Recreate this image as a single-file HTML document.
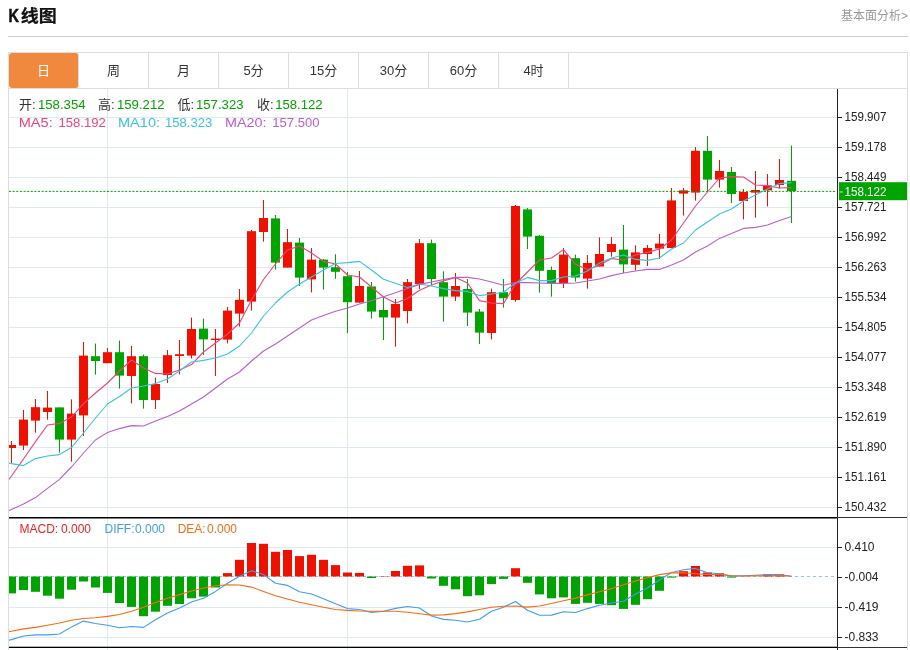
<!DOCTYPE html>
<html lang="zh-CN"><head><meta charset="utf-8"><title>K线图</title>
<style>
html,body{margin:0;padding:0;background:#fff;}
body{width:910px;height:650px;position:relative;overflow:hidden;font-family:"Liberation Sans","Noto Sans CJK SC",sans-serif;color:#222;}
.k{position:absolute;left:-0.5px;top:0.9px;font-size:14.5px;line-height:24px;transform:scaleY(1.27);transform-origin:0 17px;-webkit-text-stroke:0.45px #111;}
.cj{position:absolute;left:11.7px;top:0.3px;transform:scaleY(0.96);transform-origin:0 100%;-webkit-text-stroke:0.25px #111;}
.title{position:absolute;left:9px;top:3.7px;white-space:nowrap;width:60px;height:24px;font-size:18px;font-weight:bold;line-height:24px;color:#111;}
.more{position:absolute;right:2px;top:6.5px;font-size:12px;line-height:18px;color:#999;}
.hr{position:absolute;left:8px;top:36px;width:900px;height:1px;background:#ccc;}
.tabs{position:absolute;left:8px;top:52px;width:898px;height:35px;border:1px solid #ddd;display:flex;}
.tab{width:69px;height:35px;border-right:1px solid #ddd;text-align:center;line-height:35px;font-size:13px;color:#333;}
.tab.on{background:#f0883e;color:#fff;border-radius:3px;}
</style></head><body>
<div class="title"><span class="k">K</span><span class="cj">线图</span></div>
<div class="more">基本面分析&gt;</div>
<div class="hr"></div>
<div class="tabs"><div class="tab on">日</div><div class="tab">周</div><div class="tab">月</div><div class="tab">5分</div><div class="tab">15分</div><div class="tab">30分</div><div class="tab">60分</div><div class="tab">4时</div></div>
<svg class="chart" width="910" height="562" viewBox="0 88 910 562" style="position:absolute;left:0;top:88px">
<defs><clipPath id="cp"><rect x="9" y="88" width="828" height="562"/></clipPath></defs>
<g stroke="#dfe9f1" stroke-width="1" shape-rendering="crispEdges">
<line x1="9" x2="837" y1="117.5" y2="117.5"/>
<line x1="9" x2="837" y1="147.5" y2="147.5"/>
<line x1="9" x2="837" y1="177.5" y2="177.5"/>
<line x1="9" x2="837" y1="207.5" y2="207.5"/>
<line x1="9" x2="837" y1="237.5" y2="237.5"/>
<line x1="9" x2="837" y1="267.5" y2="267.5"/>
<line x1="9" x2="837" y1="297.5" y2="297.5"/>
<line x1="9" x2="837" y1="327.5" y2="327.5"/>
<line x1="9" x2="837" y1="357.5" y2="357.5"/>
<line x1="9" x2="837" y1="387.5" y2="387.5"/>
<line x1="9" x2="837" y1="417.5" y2="417.5"/>
<line x1="9" x2="837" y1="447.5" y2="447.5"/>
<line x1="9" x2="837" y1="477.5" y2="477.5"/>
<line x1="9" x2="837" y1="507.5" y2="507.5"/>
<line x1="9" x2="837" y1="547.5" y2="547.5"/>
<line x1="9" x2="837" y1="607.5" y2="607.5"/>
<line x1="9" x2="837" y1="637.5" y2="637.5"/>
<line x1="107.5" x2="107.5" y1="89" y2="650"/>
<line x1="347.5" x2="347.5" y1="89" y2="650"/>
</g>
<g stroke="#dddddd" stroke-width="1" shape-rendering="crispEdges"><line x1="8.5" x2="8.5" y1="88" y2="650"/><line x1="907.5" x2="907.5" y1="88" y2="650"/></g>
<line x1="9" x2="837" y1="576.5" y2="576.5" stroke="#8ccbee" stroke-width="1" stroke-dasharray="3,3" shape-rendering="crispEdges"/>
<g clip-path="url(#cp)">
<rect x="7" y="576.5" width="9" height="16.9" fill="#00a400"/>
<rect x="19" y="576.5" width="9" height="13.6" fill="#00a400"/>
<rect x="31" y="576.5" width="9" height="15.3" fill="#00a400"/>
<rect x="43" y="576.5" width="9" height="19.2" fill="#00a400"/>
<rect x="55" y="576.5" width="9" height="22.2" fill="#00a400"/>
<rect x="67" y="576.5" width="9" height="13.2" fill="#00a400"/>
<rect x="79" y="576.5" width="9" height="5.0" fill="#00a400"/>
<rect x="91" y="576.5" width="9" height="11.0" fill="#00a400"/>
<rect x="103" y="576.5" width="9" height="16.4" fill="#00a400"/>
<rect x="115" y="576.5" width="9" height="26.5" fill="#00a400"/>
<rect x="127" y="576.5" width="9" height="30.4" fill="#00a400"/>
<rect x="139" y="576.5" width="9" height="39.7" fill="#00a400"/>
<rect x="151" y="576.5" width="9" height="35.2" fill="#00a400"/>
<rect x="163" y="576.5" width="9" height="29.3" fill="#00a400"/>
<rect x="175" y="576.5" width="9" height="27.5" fill="#00a400"/>
<rect x="187" y="576.5" width="9" height="21.8" fill="#00a400"/>
<rect x="199" y="576.5" width="9" height="20.1" fill="#00a400"/>
<rect x="211" y="576.5" width="9" height="11.0" fill="#00a400"/>
<rect x="223" y="573.1" width="9" height="3.4" fill="#ee1100"/>
<rect x="235" y="559.8" width="9" height="16.7" fill="#ee1100"/>
<rect x="247" y="543.0" width="9" height="33.5" fill="#ee1100"/>
<rect x="259" y="543.8" width="9" height="32.7" fill="#ee1100"/>
<rect x="271" y="551.8" width="9" height="24.7" fill="#ee1100"/>
<rect x="283" y="550.0" width="9" height="26.5" fill="#ee1100"/>
<rect x="295" y="556.1" width="9" height="20.4" fill="#ee1100"/>
<rect x="307" y="554.8" width="9" height="21.7" fill="#ee1100"/>
<rect x="319" y="559.8" width="9" height="16.7" fill="#ee1100"/>
<rect x="331" y="565.1" width="9" height="11.4" fill="#ee1100"/>
<rect x="343" y="572.5" width="9" height="4.0" fill="#ee1100"/>
<rect x="355" y="572.9" width="9" height="3.6" fill="#ee1100"/>
<rect x="367" y="576.5" width="9" height="1.5" fill="#00a400"/>
<rect x="379" y="576.1" width="9" height="0.4" fill="#ee1100"/>
<rect x="391" y="571.0" width="9" height="5.5" fill="#ee1100"/>
<rect x="403" y="565.8" width="9" height="10.7" fill="#ee1100"/>
<rect x="415" y="565.4" width="9" height="11.1" fill="#ee1100"/>
<rect x="427" y="576.5" width="9" height="2.0" fill="#00a400"/>
<rect x="439" y="576.5" width="9" height="9.3" fill="#00a400"/>
<rect x="451" y="576.5" width="9" height="12.8" fill="#00a400"/>
<rect x="463" y="576.5" width="9" height="19.7" fill="#00a400"/>
<rect x="475" y="576.5" width="9" height="18.8" fill="#00a400"/>
<rect x="487" y="576.5" width="9" height="7.6" fill="#00a400"/>
<rect x="499" y="576.5" width="9" height="2.4" fill="#00a400"/>
<rect x="511" y="568.2" width="9" height="8.3" fill="#ee1100"/>
<rect x="523" y="576.5" width="9" height="6.3" fill="#00a400"/>
<rect x="535" y="576.5" width="9" height="17.9" fill="#00a400"/>
<rect x="547" y="576.5" width="9" height="21.8" fill="#00a400"/>
<rect x="559" y="576.5" width="9" height="20.9" fill="#00a400"/>
<rect x="571" y="576.5" width="9" height="27.4" fill="#00a400"/>
<rect x="583" y="576.5" width="9" height="26.3" fill="#00a400"/>
<rect x="595" y="576.5" width="9" height="27.4" fill="#00a400"/>
<rect x="607" y="576.5" width="9" height="28.7" fill="#00a400"/>
<rect x="619" y="576.5" width="9" height="32.4" fill="#00a400"/>
<rect x="631" y="576.5" width="9" height="28.3" fill="#00a400"/>
<rect x="643" y="576.5" width="9" height="22.7" fill="#00a400"/>
<rect x="655" y="576.5" width="9" height="14.3" fill="#00a400"/>
<rect x="667" y="576.5" width="9" height="1.1" fill="#00a400"/>
<rect x="679" y="571.2" width="9" height="5.3" fill="#ee1100"/>
<rect x="691" y="566.0" width="9" height="10.5" fill="#ee1100"/>
<rect x="703" y="572.5" width="9" height="4.0" fill="#ee1100"/>
<rect x="715" y="573.3" width="9" height="3.2" fill="#ee1100"/>
<rect x="727" y="576.5" width="9" height="1.1" fill="#00a400"/>
<rect x="763" y="574.3" width="9" height="2.2" fill="#ee1100"/>
<rect x="775" y="574.3" width="9" height="2.2" fill="#ee1100"/>
</g>
<polyline points="8.5,640.3 11.5,639.6 23.5,636.0 35.5,634.9 47.5,634.9 59.5,634.0 71.5,626.9 83.5,621.1 95.5,623.5 107.5,625.2 119.5,627.8 131.5,626.5 143.5,627.4 155.5,619.8 167.5,613.0 179.5,608.0 191.5,602.0 203.5,598.3 215.5,591.4 227.5,583.2 239.5,576.3 251.5,570.7 263.5,574.6 275.5,583.2 287.5,585.4 299.5,591.8 311.5,594.0 323.5,598.7 335.5,603.7 347.5,608.6 359.5,609.5 371.5,612.4 383.5,611.2 395.5,608.4 407.5,606.5 419.5,608.0 431.5,616.0 443.5,619.4 455.5,620.3 467.5,622.0 479.5,619.2 491.5,611.2 503.5,607.3 515.5,601.5 527.5,610.2 539.5,615.3 551.5,615.1 563.5,611.7 575.5,612.5 587.5,608.6 599.5,605.2 611.5,603.0 623.5,601.3 635.5,594.0 647.5,588.0 659.5,580.0 671.5,572.5 683.5,569.7 695.5,568.4 707.5,572.7 719.5,573.8 731.5,575.9 743.5,575.9 755.5,575.3 767.5,574.6 779.5,574.6 791.5,576.3" fill="none" stroke="#3f9cf4" stroke-width="1.1" stroke-linejoin="round" clip-path="url(#cp)"/>
<polyline points="8.5,631.7 11.5,631.2 23.5,628.9 35.5,627.4 47.5,625.2 59.5,623.0 71.5,620.3 83.5,618.5 95.5,617.7 107.5,616.4 119.5,614.5 131.5,611.2 143.5,607.3 155.5,602.6 167.5,598.3 179.5,594.6 191.5,591.0 203.5,588.0 215.5,585.8 227.5,584.7 239.5,585.0 251.5,587.1 263.5,591.4 275.5,595.7 287.5,599.0 299.5,602.2 311.5,604.8 323.5,607.3 335.5,609.5 347.5,610.4 359.5,611.0 371.5,611.3 383.5,611.2 395.5,611.2 407.5,612.3 419.5,613.8 431.5,615.1 443.5,614.9 455.5,613.6 467.5,611.9 479.5,609.5 491.5,607.3 503.5,606.3 515.5,606.0 527.5,607.1 539.5,606.0 551.5,603.5 563.5,600.7 575.5,598.1 587.5,594.9 599.5,591.8 611.5,588.6 623.5,584.7 635.5,580.9 647.5,577.8 659.5,574.6 671.5,572.9 683.5,572.7 695.5,573.8 707.5,574.4 719.5,574.8 731.5,575.7 743.5,576.0 755.5,575.9 767.5,575.7 779.5,575.5 791.5,576.3" fill="none" stroke="#f96c12" stroke-width="1.1" stroke-linejoin="round" clip-path="url(#cp)"/>
<g clip-path="url(#cp)">
<rect x="11" y="441.0" width="1" height="22.0" fill="#ee1100"/>
<rect x="7" y="445.0" width="9" height="3.0" fill="#ee1100"/>
<rect x="23" y="410.0" width="1" height="40.0" fill="#ee1100"/>
<rect x="19" y="419.6" width="9" height="26.0" fill="#ee1100"/>
<rect x="35" y="399.0" width="1" height="33.6" fill="#ee1100"/>
<rect x="31" y="407.2" width="9" height="13.4" fill="#ee1100"/>
<rect x="47" y="391.0" width="1" height="28.6" fill="#ee1100"/>
<rect x="43" y="407.6" width="9" height="4.4" fill="#ee1100"/>
<rect x="59" y="407.4" width="1" height="45.2" fill="#00a400"/>
<rect x="55" y="407.4" width="9" height="32.2" fill="#00a400"/>
<rect x="71" y="399.4" width="1" height="62.2" fill="#ee1100"/>
<rect x="67" y="413.6" width="9" height="26.0" fill="#ee1100"/>
<rect x="83" y="342.0" width="1" height="94.0" fill="#ee1100"/>
<rect x="79" y="355.6" width="9" height="59.8" fill="#ee1100"/>
<rect x="95" y="343.6" width="1" height="31.0" fill="#00a400"/>
<rect x="91" y="356.2" width="9" height="4.8" fill="#00a400"/>
<rect x="107" y="348.0" width="1" height="15.2" fill="#ee1100"/>
<rect x="103" y="352.2" width="9" height="11.0" fill="#ee1100"/>
<rect x="119" y="340.6" width="1" height="48.0" fill="#00a400"/>
<rect x="115" y="352.2" width="9" height="23.4" fill="#00a400"/>
<rect x="131" y="346.0" width="1" height="57.4" fill="#ee1100"/>
<rect x="127" y="356.2" width="9" height="19.8" fill="#ee1100"/>
<rect x="143" y="354.6" width="1" height="54.0" fill="#00a400"/>
<rect x="139" y="356.2" width="9" height="43.8" fill="#00a400"/>
<rect x="155" y="377.6" width="1" height="31.4" fill="#ee1100"/>
<rect x="151" y="384.0" width="9" height="16.0" fill="#ee1100"/>
<rect x="167" y="350.0" width="1" height="33.0" fill="#ee1100"/>
<rect x="163" y="355.2" width="9" height="19.8" fill="#ee1100"/>
<rect x="179" y="340.0" width="1" height="34.4" fill="#ee1100"/>
<rect x="175" y="354.2" width="9" height="1.8" fill="#ee1100"/>
<rect x="191" y="317.6" width="1" height="41.0" fill="#ee1100"/>
<rect x="187" y="329.0" width="9" height="26.6" fill="#ee1100"/>
<rect x="203" y="318.6" width="1" height="36.4" fill="#00a400"/>
<rect x="199" y="328.6" width="9" height="10.8" fill="#00a400"/>
<rect x="215" y="329.0" width="1" height="47.0" fill="#ee1100"/>
<rect x="211" y="338.6" width="9" height="1.4" fill="#ee1100"/>
<rect x="227" y="307.0" width="1" height="36.4" fill="#ee1100"/>
<rect x="223" y="310.6" width="9" height="29.0" fill="#ee1100"/>
<rect x="239" y="289.0" width="1" height="37.6" fill="#ee1100"/>
<rect x="235" y="299.8" width="9" height="13.8" fill="#ee1100"/>
<rect x="251" y="230.0" width="1" height="80.6" fill="#ee1100"/>
<rect x="247" y="231.2" width="9" height="70.4" fill="#ee1100"/>
<rect x="263" y="200.0" width="1" height="41.6" fill="#ee1100"/>
<rect x="259" y="218.0" width="9" height="14.0" fill="#ee1100"/>
<rect x="275" y="215.0" width="1" height="54.6" fill="#00a400"/>
<rect x="271" y="218.4" width="9" height="44.2" fill="#00a400"/>
<rect x="287" y="229.0" width="1" height="38.6" fill="#ee1100"/>
<rect x="283" y="242.2" width="9" height="25.4" fill="#ee1100"/>
<rect x="299" y="238.0" width="1" height="48.0" fill="#00a400"/>
<rect x="295" y="242.6" width="9" height="35.0" fill="#00a400"/>
<rect x="311" y="248.0" width="1" height="44.4" fill="#ee1100"/>
<rect x="307" y="259.6" width="9" height="19.8" fill="#ee1100"/>
<rect x="323" y="259.0" width="1" height="30.6" fill="#00a400"/>
<rect x="319" y="259.6" width="9" height="8.0" fill="#00a400"/>
<rect x="335" y="254.2" width="1" height="24.6" fill="#00a400"/>
<rect x="331" y="267.2" width="9" height="4.6" fill="#00a400"/>
<rect x="347" y="272.0" width="1" height="61.0" fill="#00a400"/>
<rect x="343" y="276.2" width="9" height="26.0" fill="#00a400"/>
<rect x="359" y="271.0" width="1" height="31.6" fill="#ee1100"/>
<rect x="355" y="286.0" width="9" height="16.6" fill="#ee1100"/>
<rect x="371" y="282.0" width="1" height="36.6" fill="#00a400"/>
<rect x="367" y="286.5" width="9" height="25.1" fill="#00a400"/>
<rect x="383" y="297.0" width="1" height="43.0" fill="#00a400"/>
<rect x="379" y="310.0" width="9" height="7.4" fill="#00a400"/>
<rect x="395" y="299.0" width="1" height="47.6" fill="#ee1100"/>
<rect x="391" y="304.0" width="9" height="13.6" fill="#ee1100"/>
<rect x="407" y="279.0" width="1" height="44.4" fill="#ee1100"/>
<rect x="403" y="282.2" width="9" height="28.8" fill="#ee1100"/>
<rect x="419" y="239.0" width="1" height="50.0" fill="#ee1100"/>
<rect x="415" y="243.2" width="9" height="40.8" fill="#ee1100"/>
<rect x="431" y="239.6" width="1" height="45.4" fill="#00a400"/>
<rect x="427" y="243.2" width="9" height="35.8" fill="#00a400"/>
<rect x="443" y="271.4" width="1" height="50.2" fill="#00a400"/>
<rect x="439" y="282.2" width="9" height="14.4" fill="#00a400"/>
<rect x="455" y="273.0" width="1" height="28.0" fill="#ee1100"/>
<rect x="451" y="286.0" width="9" height="10.6" fill="#ee1100"/>
<rect x="467" y="279.0" width="1" height="47.0" fill="#00a400"/>
<rect x="463" y="289.0" width="9" height="23.6" fill="#00a400"/>
<rect x="479" y="309.0" width="1" height="35.0" fill="#00a400"/>
<rect x="475" y="311.6" width="9" height="21.0" fill="#00a400"/>
<rect x="491" y="288.6" width="1" height="50.8" fill="#ee1100"/>
<rect x="487" y="292.2" width="9" height="40.8" fill="#ee1100"/>
<rect x="503" y="279.0" width="1" height="28.6" fill="#00a400"/>
<rect x="499" y="292.2" width="9" height="6.0" fill="#00a400"/>
<rect x="515" y="205.0" width="1" height="96.6" fill="#ee1100"/>
<rect x="511" y="206.0" width="9" height="94.0" fill="#ee1100"/>
<rect x="527" y="208.0" width="1" height="41.0" fill="#00a400"/>
<rect x="523" y="209.4" width="9" height="27.2" fill="#00a400"/>
<rect x="539" y="235.0" width="1" height="57.6" fill="#00a400"/>
<rect x="535" y="235.8" width="9" height="35.0" fill="#00a400"/>
<rect x="551" y="266.6" width="1" height="30.0" fill="#00a400"/>
<rect x="547" y="270.0" width="9" height="13.0" fill="#00a400"/>
<rect x="563" y="248.0" width="1" height="40.0" fill="#ee1100"/>
<rect x="559" y="254.6" width="9" height="28.4" fill="#ee1100"/>
<rect x="575" y="254.6" width="1" height="27.0" fill="#00a400"/>
<rect x="571" y="258.2" width="9" height="19.4" fill="#00a400"/>
<rect x="587" y="255.0" width="1" height="33.6" fill="#ee1100"/>
<rect x="583" y="263.0" width="9" height="15.6" fill="#ee1100"/>
<rect x="599" y="237.4" width="1" height="29.1" fill="#ee1100"/>
<rect x="595" y="254.0" width="9" height="12.5" fill="#ee1100"/>
<rect x="611" y="237.0" width="1" height="19.6" fill="#ee1100"/>
<rect x="607" y="244.0" width="9" height="8.0" fill="#ee1100"/>
<rect x="623" y="225.0" width="1" height="48.0" fill="#00a400"/>
<rect x="619" y="249.6" width="9" height="14.8" fill="#00a400"/>
<rect x="635" y="245.4" width="1" height="25.2" fill="#ee1100"/>
<rect x="631" y="252.4" width="9" height="12.4" fill="#ee1100"/>
<rect x="647" y="245.0" width="1" height="21.0" fill="#ee1100"/>
<rect x="643" y="248.0" width="9" height="6.0" fill="#ee1100"/>
<rect x="659" y="234.0" width="1" height="25.0" fill="#ee1100"/>
<rect x="655" y="243.6" width="9" height="5.0" fill="#ee1100"/>
<rect x="671" y="188.0" width="1" height="60.0" fill="#ee1100"/>
<rect x="667" y="200.4" width="9" height="47.6" fill="#ee1100"/>
<rect x="683" y="188.0" width="1" height="27.6" fill="#ee1100"/>
<rect x="679" y="190.4" width="9" height="3.2" fill="#ee1100"/>
<rect x="695" y="147.0" width="1" height="53.6" fill="#ee1100"/>
<rect x="691" y="150.8" width="9" height="41.8" fill="#ee1100"/>
<rect x="707" y="136.0" width="1" height="55.6" fill="#00a400"/>
<rect x="703" y="150.8" width="9" height="28.8" fill="#00a400"/>
<rect x="719" y="160.0" width="1" height="27.6" fill="#ee1100"/>
<rect x="715" y="171.0" width="9" height="8.6" fill="#ee1100"/>
<rect x="731" y="167.0" width="1" height="36.0" fill="#00a400"/>
<rect x="727" y="172.0" width="9" height="22.0" fill="#00a400"/>
<rect x="743" y="189.0" width="1" height="30.4" fill="#ee1100"/>
<rect x="739" y="192.0" width="9" height="9.0" fill="#ee1100"/>
<rect x="755" y="171.0" width="1" height="46.6" fill="#ee1100"/>
<rect x="751" y="190.0" width="9" height="2.6" fill="#ee1100"/>
<rect x="767" y="174.0" width="1" height="32.4" fill="#ee1100"/>
<rect x="763" y="185.4" width="9" height="5.0" fill="#ee1100"/>
<rect x="779" y="159.0" width="1" height="29.6" fill="#ee1100"/>
<rect x="775" y="180.0" width="9" height="5.0" fill="#ee1100"/>
<rect x="791" y="145.6" width="1" height="77.4" fill="#00a400"/>
<rect x="787" y="180.8" width="9" height="10.4" fill="#00a400"/>
</g>
<polyline points="8.5,480.0 11.5,476.0 23.5,459.0 35.5,441.6 47.5,425.0 59.5,423.4 71.5,417.0 83.5,403.6 95.5,393.0 107.5,383.0 119.5,371.0 131.5,360.0 143.5,368.0 155.5,373.4 167.5,374.0 179.5,370.0 191.5,364.6 203.5,352.0 215.5,343.0 227.5,334.0 239.5,323.0 251.5,300.0 263.5,279.5 275.5,264.0 287.5,250.0 299.5,246.0 311.5,253.0 323.5,261.4 335.5,264.0 347.5,275.0 359.5,277.0 371.5,287.0 383.5,297.0 395.5,303.0 407.5,298.5 419.5,290.2 431.5,285.0 443.5,281.0 455.5,277.4 467.5,283.0 479.5,300.6 491.5,303.0 503.5,303.6 515.5,284.0 527.5,272.0 539.5,260.0 551.5,258.0 563.5,249.6 575.5,264.2 587.5,269.5 599.5,265.2 611.5,258.6 623.5,260.0 635.5,255.0 647.5,252.4 659.5,249.0 671.5,240.0 683.5,223.0 695.5,206.0 707.5,192.0 719.5,178.0 731.5,176.6 743.5,177.0 755.5,185.0 767.5,185.6 779.5,188.0 791.5,187.6" fill="none" stroke="#ee4477" stroke-width="1.1" stroke-linejoin="round" clip-path="url(#cp)"/>
<polyline points="8.5,463.0 11.5,463.6 23.5,465.6 35.5,458.6 47.5,456.0 59.5,454.6 71.5,447.6 83.5,433.0 95.5,418.0 107.5,404.0 119.5,396.5 131.5,388.0 143.5,386.0 155.5,383.6 167.5,379.0 179.5,371.0 191.5,362.0 203.5,360.4 215.5,358.0 227.5,354.0 239.5,346.0 251.5,333.0 263.5,316.0 275.5,303.0 287.5,292.0 299.5,284.0 311.5,277.0 323.5,270.0 335.5,263.5 347.5,262.6 359.5,261.4 371.5,270.0 383.5,279.2 395.5,283.2 407.5,287.6 419.5,284.0 431.5,286.0 443.5,288.6 455.5,290.6 467.5,291.4 479.5,295.6 491.5,294.0 503.5,292.3 515.5,283.0 527.5,277.4 539.5,280.6 551.5,280.6 563.5,277.0 575.5,276.0 587.5,271.0 599.5,263.0 611.5,258.0 623.5,255.0 635.5,259.4 647.5,260.4 659.5,258.0 671.5,249.0 683.5,243.0 695.5,230.0 707.5,222.0 719.5,214.0 731.5,209.0 743.5,201.0 755.5,195.0 767.5,189.0 779.5,183.6 791.5,182.6" fill="none" stroke="#3bc3dd" stroke-width="1.1" stroke-linejoin="round" clip-path="url(#cp)"/>
<polyline points="8.5,510.6 11.5,509.4 23.5,504.0 35.5,497.6 47.5,488.4 59.5,479.4 71.5,467.0 83.5,453.0 95.5,440.0 107.5,432.4 119.5,428.6 131.5,425.6 143.5,426.0 155.5,421.0 167.5,416.6 179.5,411.0 191.5,404.0 203.5,397.0 215.5,388.0 227.5,379.0 239.5,372.0 251.5,361.0 263.5,351.0 275.5,344.0 287.5,336.0 299.5,328.0 311.5,320.0 323.5,315.6 335.5,311.2 347.5,308.0 359.5,304.0 371.5,300.8 383.5,296.8 395.5,292.7 407.5,288.5 419.5,284.4 431.5,282.0 443.5,279.6 455.5,277.4 467.5,277.4 479.5,279.0 491.5,282.0 503.5,285.2 515.5,282.6 527.5,282.6 539.5,283.0 551.5,283.4 563.5,283.4 575.5,283.0 587.5,281.0 599.5,279.0 611.5,275.6 623.5,273.0 635.5,271.0 647.5,269.4 659.5,269.4 671.5,265.0 683.5,260.0 695.5,252.0 707.5,246.0 719.5,238.4 731.5,233.6 743.5,228.4 755.5,227.4 767.5,225.0 779.5,220.6 791.5,216.4" fill="none" stroke="#b95fc8" stroke-width="1.1" stroke-linejoin="round" clip-path="url(#cp)"/>
<line x1="9" x2="836" y1="191.4" y2="191.4" stroke="#00a400" stroke-width="1" stroke-dasharray="2,1.63"/>
<g stroke="#222" stroke-width="1" shape-rendering="crispEdges">
<line x1="837.5" x2="837.5" y1="89" y2="650"/>
<line x1="837" x2="907" y1="517.5" y2="517.5" stroke="#333"/>
<line x1="837" x2="907" y1="647.5" y2="647.5" stroke="#333"/>
<line x1="837" x2="842" y1="117.5" y2="117.5"/>
<line x1="837" x2="842" y1="147.5" y2="147.5"/>
<line x1="837" x2="842" y1="177.5" y2="177.5"/>
<line x1="837" x2="842" y1="207.5" y2="207.5"/>
<line x1="837" x2="842" y1="237.5" y2="237.5"/>
<line x1="837" x2="842" y1="267.5" y2="267.5"/>
<line x1="837" x2="842" y1="297.5" y2="297.5"/>
<line x1="837" x2="842" y1="327.5" y2="327.5"/>
<line x1="837" x2="842" y1="357.5" y2="357.5"/>
<line x1="837" x2="842" y1="387.5" y2="387.5"/>
<line x1="837" x2="842" y1="417.5" y2="417.5"/>
<line x1="837" x2="842" y1="447.5" y2="447.5"/>
<line x1="837" x2="842" y1="477.5" y2="477.5"/>
<line x1="837" x2="842" y1="507.5" y2="507.5"/>
<line x1="837" x2="842" y1="547.5" y2="547.5"/>
<line x1="837" x2="842" y1="577.5" y2="577.5"/>
<line x1="837" x2="842" y1="607.5" y2="607.5"/>
<line x1="837" x2="842" y1="637.5" y2="637.5"/>
</g>
<rect x="9" y="517" width="828" height="1.5" fill="#000"/><rect x="9" y="646.7" width="828" height="1.3" fill="#000"/>
<g font-size="12" fill="#222" font-family="'Liberation Sans',sans-serif">
<text x="844.5" y="121.3" textLength="42" lengthAdjust="spacingAndGlyphs">159.907</text>
<text x="844.5" y="151.3" textLength="42" lengthAdjust="spacingAndGlyphs">159.178</text>
<text x="844.5" y="181.3" textLength="42" lengthAdjust="spacingAndGlyphs">158.449</text>
<text x="844.5" y="211.3" textLength="42" lengthAdjust="spacingAndGlyphs">157.721</text>
<text x="844.5" y="241.3" textLength="42" lengthAdjust="spacingAndGlyphs">156.992</text>
<text x="844.5" y="271.3" textLength="42" lengthAdjust="spacingAndGlyphs">156.263</text>
<text x="844.5" y="301.3" textLength="42" lengthAdjust="spacingAndGlyphs">155.534</text>
<text x="844.5" y="331.3" textLength="42" lengthAdjust="spacingAndGlyphs">154.805</text>
<text x="844.5" y="361.3" textLength="42" lengthAdjust="spacingAndGlyphs">154.077</text>
<text x="844.5" y="391.3" textLength="42" lengthAdjust="spacingAndGlyphs">153.348</text>
<text x="844.5" y="421.3" textLength="42" lengthAdjust="spacingAndGlyphs">152.619</text>
<text x="844.5" y="451.3" textLength="42" lengthAdjust="spacingAndGlyphs">151.890</text>
<text x="844.5" y="481.3" textLength="42" lengthAdjust="spacingAndGlyphs">151.161</text>
<text x="844.5" y="511.3" textLength="42" lengthAdjust="spacingAndGlyphs">150.432</text>
<text x="844.5" y="551.3">0.410</text>
<text x="844.5" y="581.3">-0.004</text>
<text x="844.5" y="611.3">-0.419</text>
<text x="844.5" y="641.3">-0.833</text>
</g>
<rect x="839" y="182.2" width="68" height="18" fill="#00a400"/>
<rect x="839.5" y="191.4" width="3.2" height="1.1" fill="#fff" opacity="0.7"/>
<text x="844.5" y="195.5" textLength="42" lengthAdjust="spacingAndGlyphs" font-size="12" fill="#fff" font-family="'Liberation Sans',sans-serif">158.122</text>
<g font-size="13" font-family="'Liberation Sans','Noto Sans CJK SC',sans-serif">
<text x="19" y="109.3" fill="#333">开:</text><text x="38" y="109.3" fill="#00a400" textLength="47.5" lengthAdjust="spacingAndGlyphs">158.354</text>
<text x="98" y="109.3" fill="#333">高:</text><text x="117" y="109.3" fill="#00a400" textLength="47.5" lengthAdjust="spacingAndGlyphs">159.212</text>
<text x="177.5" y="109.3" fill="#333">低:</text><text x="196" y="109.3" fill="#00a400" textLength="47.5" lengthAdjust="spacingAndGlyphs">157.323</text>
<text x="257" y="109.3" fill="#333">收:</text><text x="275.2" y="109.3" fill="#00a400" textLength="47.5" lengthAdjust="spacingAndGlyphs">158.122</text>
<text x="18.7" y="127.3" fill="#ee4477" textLength="34" lengthAdjust="spacingAndGlyphs">MA5:</text><text x="58.5" y="127.3" fill="#ee4477" textLength="47.3" lengthAdjust="spacingAndGlyphs">158.192</text>
<text x="118" y="127.3" fill="#3bc3dd" textLength="42" lengthAdjust="spacingAndGlyphs">MA10:</text><text x="165.0" y="127.3" fill="#3bc3dd" textLength="47.3" lengthAdjust="spacingAndGlyphs">158.323</text>
<text x="225" y="127.3" fill="#b95fc8" textLength="41.5" lengthAdjust="spacingAndGlyphs">MA20:</text><text x="272.3" y="127.3" fill="#b95fc8" textLength="47.3" lengthAdjust="spacingAndGlyphs">157.500</text>
</g>
<g font-size="12" font-family="'Liberation Sans','Noto Sans CJK SC',sans-serif">
<text x="19.5" y="532.6" fill="#ee2222">MACD:</text><text x="61" y="532.6" fill="#ee2222">0.000</text>
<text x="104.5" y="532.6" fill="#3f9cf4">DIFF:</text><text x="135" y="532.6" fill="#3f9cf4">0.000</text>
<text x="177.7" y="532.6" fill="#f96c12">DEA:</text><text x="207" y="532.6" fill="#f96c12">0.000</text>
</g>
</svg>
</body></html>
